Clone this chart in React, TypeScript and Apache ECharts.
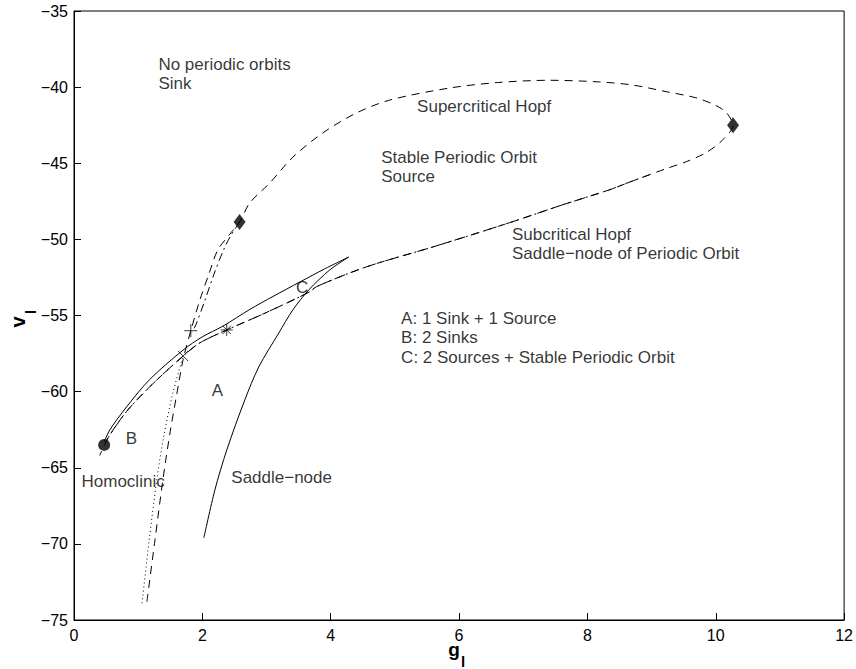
import { useEffect, useRef } from "react";
import * as echarts from "echarts";

const FONT = "'Liberation Sans', Arial, Helvetica, sans-serif";

// Tick setup
const xMin = 0, xMax = 12, xStep = 2;
const yMin = -75, yMax = -35, yStep = 5;

// Hopf curve (dashed): bottom -> left Bautin point -> supercritical arc -> right Bautin point -> subcritical branch -> BT point
const hopfCurve: number[][] = [
  [1.136, -73.8], [1.26, -69.8], [1.385, -65.8], [1.5, -62.6], [1.6, -60.2], [1.7, -57.9],
  [1.82, -56.0], [1.96, -54.0], [2.1, -52.3], [2.24, -50.7], [2.42, -49.7], [2.58, -48.86],
  [2.74, -47.6], [3.05, -46.3], [3.41, -44.6], [3.88, -43.0], [4.4, -41.7], [4.92, -40.85],
  [5.85, -40.06], [6.6, -39.7], [7.4, -39.55], [8.19, -39.66], [8.7, -39.86], [9.23, -40.3],
  [9.69, -40.7], [10.0, -41.2], [10.17, -41.7], [10.27, -42.5], [10.1, -43.5], [9.85, -44.3],
  [9.54, -44.9], [9.23, -45.35], [8.97, -45.75], [8.65, -46.25], [8.34, -46.75], [7.6, -47.75],
  [6.79, -48.9], [5.59, -50.5], [4.56, -51.8], [3.78, -53.1], [3.67, -53.45], [3.0, -54.8],
  [2.38, -55.95], [1.96, -56.8], [1.7, -57.66], [1.2, -59.6], [0.82, -61.3], [0.55, -62.9],
  [0.4, -64.2],
];

// Saddle-node of periodic orbits (dash-dot)
const snpoLower: number[][] = [
  [8.97, -45.75], [8.65, -46.25], [8.34, -46.75], [7.6, -47.75], [6.79, -48.9], [5.59, -50.5],
  [4.56, -51.8], [3.78, -53.1], [3.67, -53.45], [3.0, -54.8], [2.38, -55.95], [1.96, -56.8],
  [1.7, -57.66], [1.2, -59.6], [0.82, -61.3], [0.55, -62.9], [0.47, -63.5],
];
const snpoUpper: number[][] = [
  [2.58, -48.86], [2.45, -49.7], [2.33, -50.7], [2.18, -52.3], [2.04, -54.0], [1.9, -55.6], [1.84, -56.1],
];

// Saddle-node curve (solid), two branches meeting at the cusp
const saddleLower: number[][] = [
  [2.023, -69.61], [2.195, -66.46], [2.381, -63.83], [2.661, -60.55], [2.879, -58.38],
  [3.191, -56.15], [3.409, -54.64], [3.658, -53.32], [3.984, -52.01], [4.28, -51.16],
];
const saddleUpper: number[][] = [
  [4.28, -51.16], [3.9, -51.95], [3.52, -52.8], [3.1, -53.75], [2.74, -54.6], [2.32, -55.7],
  [2.0, -56.4], [1.7, -57.27], [1.18, -59.2], [0.82, -61.0], [0.56, -62.5], [0.47, -63.3],
];

// Homoclinic curve (dotted)
const homoclinic: number[][] = [
  [1.06, -73.9], [1.17, -69.8], [1.29, -65.8], [1.4, -62.9], [1.54, -60.1], [1.7, -57.66],
];

// Special points
const btPoint: number[][] = [[0.47, -63.5]];
const bautinPoints: number[][] = [[2.58, -48.86], [10.27, -42.5]];
const plusPoint: number[][] = [[1.82, -56.0]];
const starPoint: number[][] = [[2.38, -55.95]];
const crossPoint: number[][] = [[1.7, -57.66]];

// Annotations: [x, y, text]
const blockTexts: [number, number, string][] = [
  [1.323, -37.89, "No periodic orbits\nSink"],
  [5.354, -40.65, "Supercritical Hopf"],
  [4.794, -44.0, "Stable Periodic Orbit\nSource"],
  [6.833, -49.06, "Subcritical Hopf\nSaddle\u2212node of Periodic Orbit"],
  [5.105, -54.57, "A: 1 Sink + 1 Source\nB: 2 Sinks\nC: 2 Sources + Stable Periodic Orbit"],
];
const letterTexts: [number, number, string][] = [
  [3.564, -53.19, "C"],
  [2.241, -59.96, "A"],
  [0.903, -63.11, "B"],
];
const sideTexts: [number, number, string][] = [
  [2.459, -65.67, "Saddle\u2212node"],
  [0.125, -65.94, "Homoclinic"],
];

const PLUS = "path://M0,6.5H13M6.5,0V13";
const STAR = "path://M0,6H12M6,0V12M1.8,1.8L10.2,10.2M10.2,1.8L1.8,10.2";
const CROSS = "path://M0,0L10,10M10,0L0,10";

function lineSeries(data: number[][], type: any, smooth = 0.3) {
  return {
    type: "line",
    data,
    symbol: "none",
    showSymbol: false,
    smooth,
    silent: true,
    lineStyle: { color: "#000", width: 1, type },
    z: 2,
  };
}

function strokeMarker(data: number[][], symbol: string, size: number) {
  return {
    type: "scatter",
    data,
    symbol,
    symbolSize: size,
    silent: true,
    itemStyle: { color: "rgba(0,0,0,0)", borderColor: "#000", borderWidth: 1 },
    z: 5,
  };
}

function textSeries(items: [number, number, string][], align: string, vAlign: string) {
  return {
    type: "scatter",
    symbolSize: 1,
    silent: true,
    itemStyle: { color: "rgba(0,0,0,0)" },
    data: items.map((t) => ({ value: [t[0], t[1]], name: t[2] })),
    label: {
      show: true,
      position: [0, 0],
      align,
      verticalAlign: vAlign,
      formatter: (p: any) => p.name,
      fontSize: 17,
      lineHeight: 19.5,
      color: "#000",
      fontFamily: FONT,
    },
    z: 6,
  };
}

export default function App() {
  const ref = useRef<HTMLDivElement>(null);
  useEffect(() => {
    if (!ref.current) return;
    const chart = echarts.init(ref.current, undefined, { renderer: "svg" });
    const fmt = (v: number) => String(v).replace("-", "\u2212");
    chart.setOption({
      animation: false,
      backgroundColor: "#fff",
      grid: { left: 74, right: 11, top: 11, bottom: 49, show: true, borderColor: "#000", borderWidth: 1, backgroundColor: "rgba(0,0,0,0)" },
      xAxis: {
        type: "value",
        min: xMin,
        max: xMax,
        interval: xStep,
        axisLine: { show: true, lineStyle: { color: "#000", width: 1 } },
        axisTick: { show: true, inside: true, length: 7, lineStyle: { color: "#000" } },
        splitLine: { show: false },
        axisLabel: { color: "#000", fontSize: 16, fontFamily: FONT, margin: 7, formatter: fmt },
      },
      yAxis: {
        type: "value",
        min: yMin,
        max: yMax,
        interval: yStep,
        axisLine: { show: true, lineStyle: { color: "#000", width: 1 } },
        axisTick: { show: true, inside: true, length: 7, lineStyle: { color: "#000" } },
        splitLine: { show: false },
        axisLabel: { color: "#000", fontSize: 16, fontFamily: FONT, margin: 6, formatter: fmt },
      },
      series: [
        lineSeries(hopfCurve, [8, 6]),
        lineSeries(snpoLower, [8, 4, 2, 4]),
        lineSeries(snpoUpper, [8, 4, 2, 4]),
        lineSeries(saddleLower, "solid"),
        lineSeries(saddleUpper, "solid"),
        lineSeries(homoclinic, [1, 3]),
        {
          type: "scatter",
          data: btPoint,
          symbol: "circle",
          symbolSize: 12,
          silent: true,
          itemStyle: { color: "#000" },
          z: 5,
        },
        {
          type: "scatter",
          data: bautinPoints,
          symbol: "diamond",
          symbolSize: [12, 16],
          silent: true,
          itemStyle: { color: "#000" },
          z: 5,
        },
        strokeMarker(plusPoint, PLUS, 13),
        strokeMarker(starPoint, STAR, 12),
        strokeMarker(crossPoint, CROSS, 10),
        textSeries(blockTexts, "left", "top"),
        textSeries(letterTexts, "center", "middle"),
        textSeries(sideTexts, "left", "middle"),
      ],
      graphic: [
        { type: "text", x: 454, y: 649, style: { text: "g", font: `bold 19px ${FONT}`, fill: "#000", align: "center", verticalAlign: "middle" } },
        { type: "text", x: 463, y: 661, style: { text: "l", font: `bold 15px ${FONT}`, fill: "#000", align: "center", verticalAlign: "middle" } },
        { type: "text", x: 18, y: 322, rotation: Math.PI / 2, style: { text: "v", font: `bold 20px ${FONT}`, fill: "#000", align: "center", verticalAlign: "middle" } },
        { type: "text", x: 30, y: 312, rotation: Math.PI / 2, style: { text: "l", font: `bold 15px ${FONT}`, fill: "#000", align: "center", verticalAlign: "middle" } },
      ],
    });
    return () => chart.dispose();
  }, []);
  return <div ref={ref} style={{ position: "fixed", left: 0, top: 0, width: 856, height: 669 }} />;
}
